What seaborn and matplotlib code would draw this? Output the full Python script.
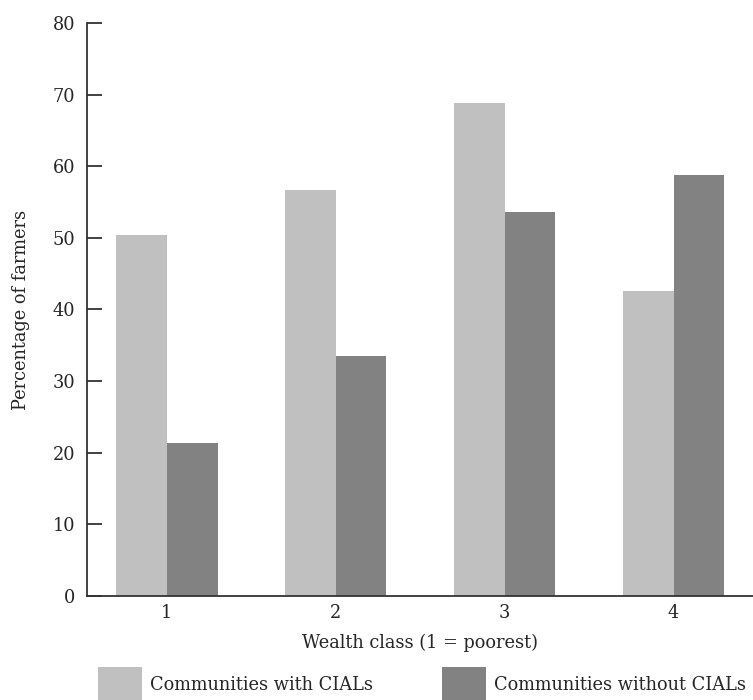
import numpy as np
import pandas as pd
import matplotlib
matplotlib.use('Agg')
import matplotlib.pyplot as plt
import seaborn as sns

# ─── Data ──────────────────────────────────────────────────────────────
wealth_classes = ['1', '2', '3', '4']
with_cials = [50.4, 56.7, 68.8, 42.6]
without_cials = [21.4, 33.5, 53.6, 58.8]
series_names = ['Communities with CIALs', 'Communities without CIALs']
y_ticks = [0, 10, 20, 30, 40, 50, 60, 70, 80]

df = pd.DataFrame({
    'wealth': wealth_classes * 2,
    'pct': with_cials + without_cials,
    'group': [series_names[0]] * 4 + [series_names[1]] * 4,
})

# ─── Style ─────────────────────────────────────────────────────────────
FS = 12.8
sns.set_style('white')
plt.rcParams['font.family'] = ['DejaVu Serif']
plt.rcParams['font.size'] = FS
PALETTE = {series_names[0]: '#c0c0c0', series_names[1]: '#828282'}

fig = plt.figure(figsize=(7.53, 7.0), dpi=100)
ax = fig.add_axes([0.1155, 0.1486, 0.8845, 0.8186])

sns.barplot(data=df, x='wealth', y='pct', hue='group', order=wealth_classes,
            hue_order=series_names, palette=PALETTE, width=0.6, saturation=1,
            linewidth=0, ax=ax)

ax.set_ylim(0, 80)
ax.set_yticks(y_ticks)
ax.set_xlim(-0.473, 3.47)

ax.spines[['top', 'right']].set_visible(False)
for s in ['left', 'bottom']:
    ax.spines[s].set_color('#333333')
    ax.spines[s].set_linewidth(1.3)
ax.tick_params(axis='y', direction='in', length=10.5, width=1.3,
               color='#333333', pad=8.5, labelsize=FS, left=True)
ax.tick_params(axis='x', length=0, pad=6, labelsize=FS)

ax.set_ylabel('Percentage of farmers', fontsize=FS, labelpad=16)
ax.set_xlabel('Wealth class (1 = poorest)', fontsize=FS, labelpad=8)

# Légende sous le graphique
handles, labels = ax.get_legend_handles_labels()
ax.legend_.remove()
fig.legend(handles, labels, ncol=2, loc='upper left',
           bbox_to_anchor=(0.130, 0.047), frameon=False, borderpad=0,
           borderaxespad=0, handlelength=2.47, handleheight=2.6,
           handletextpad=0.45, columnspacing=3.9, fontsize=FS)

plt.savefig('out.png', dpi=100)
plt.close()
